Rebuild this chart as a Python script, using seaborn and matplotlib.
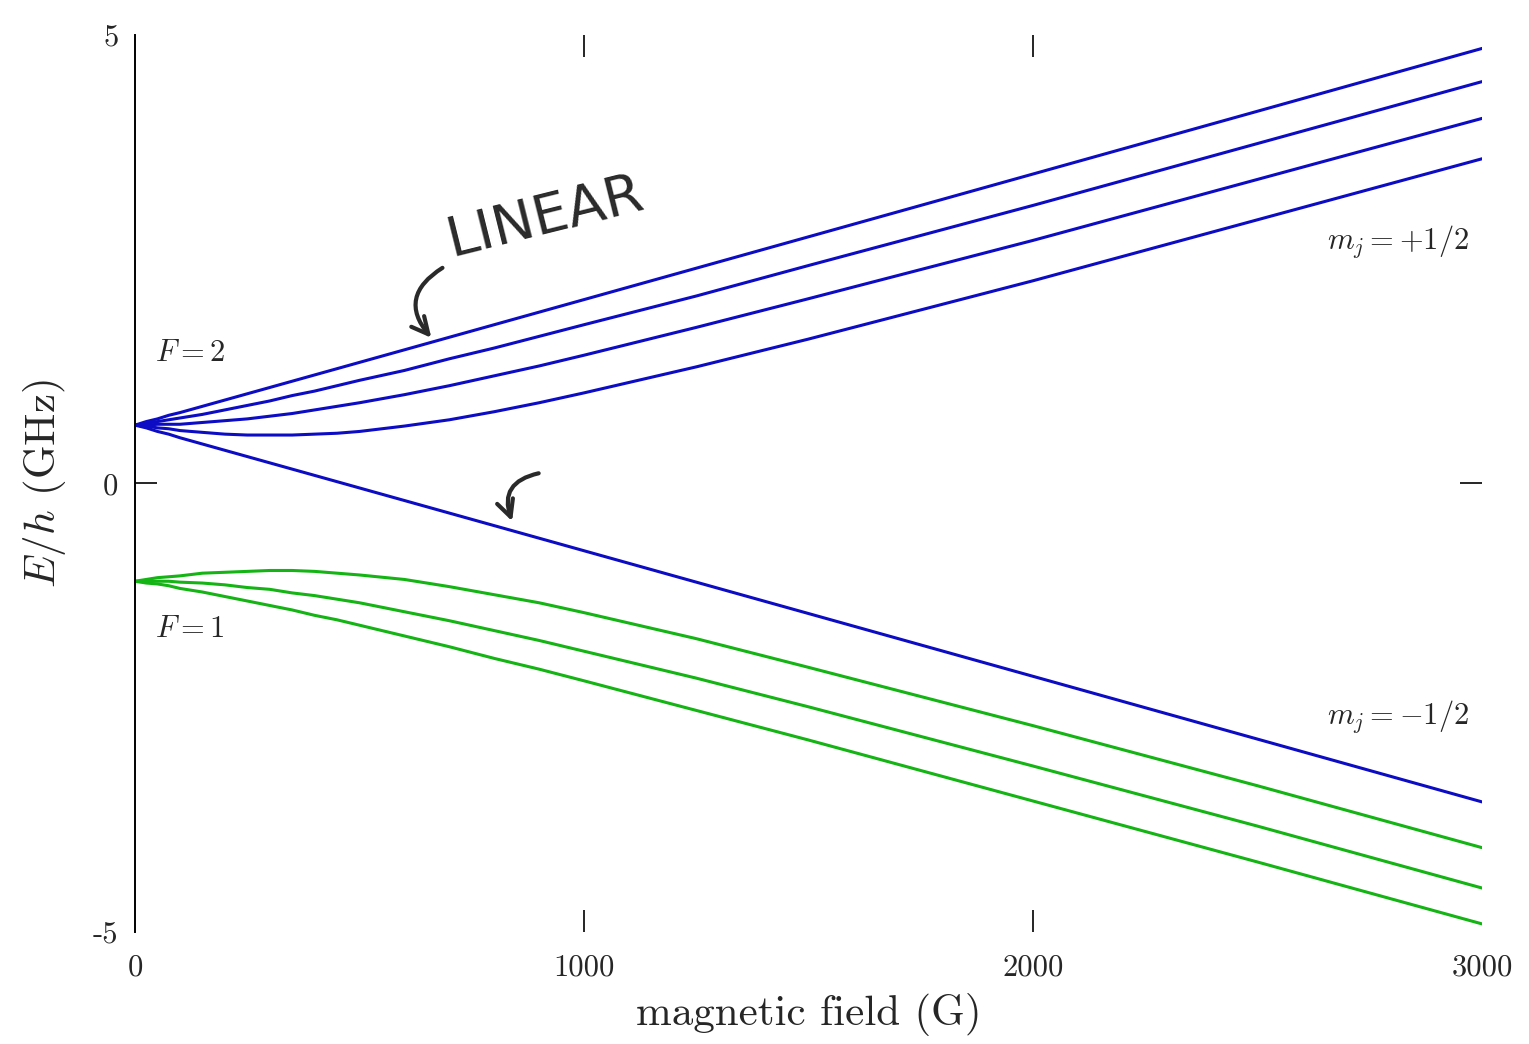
import numpy as np
import pandas as pd
import matplotlib
matplotlib.use('Agg')
import matplotlib.pyplot as plt
import seaborn as sns

field = [0, 25, 50, 75, 100, 150, 200, 250, 300, 350, 400, 450, 500,
         600, 700, 800, 900, 1000, 1250, 1500, 2000, 2500, 3000]

# F = 2 levels (GHz)
f2_m2 = [0.65, 0.69, 0.72, 0.76, 0.79, 0.86, 0.93, 1.00, 1.07, 1.14, 1.21, 1.28, 1.35,
         1.49, 1.63, 1.77, 1.91, 2.05, 2.40, 2.75, 3.45, 4.15, 4.85]
f2_m1 = [0.65, 0.67, 0.69, 0.71, 0.73, 0.77, 0.82, 0.87, 0.92, 0.98, 1.03, 1.09, 1.15,
         1.26, 1.39, 1.51, 1.64, 1.77, 2.09, 2.43, 3.10, 3.79, 4.48]
f2_m0 = [0.65, 0.65, 0.66, 0.66, 0.66, 0.68, 0.70, 0.72, 0.75, 0.78, 0.82, 0.86, 0.90,
         0.99, 1.09, 1.20, 1.31, 1.43, 1.74, 2.06, 2.71, 3.39, 4.07]
f2_mm1 = [0.65, 0.64, 0.62, 0.61, 0.59, 0.57, 0.55, 0.54, 0.54, 0.54, 0.55, 0.56, 0.58,
          0.64, 0.71, 0.80, 0.90, 1.01, 1.30, 1.61, 2.26, 2.94, 3.62]
f2_mm2 = [0.65, 0.62, 0.58, 0.55, 0.51, 0.44, 0.37, 0.30, 0.23, 0.16, 0.09, 0.02, -0.05,
          -0.19, -0.33, -0.47, -0.61, -0.75, -1.10, -1.45, -2.15, -2.85, -3.55]

# F = 1 levels (GHz)
f1_mm1 = [-1.09, -1.07, -1.05, -1.04, -1.03, -1.00, -0.99, -0.98, -0.97, -0.97, -0.98, -1.00, -1.02,
          -1.07, -1.15, -1.24, -1.33, -1.44, -1.73, -2.05, -2.70, -3.37, -4.06]
f1_m0 = [-1.09, -1.09, -1.09, -1.09, -1.10, -1.11, -1.13, -1.16, -1.18, -1.22, -1.25, -1.29, -1.33,
         -1.43, -1.53, -1.64, -1.75, -1.87, -2.17, -2.49, -3.15, -3.82, -4.51]
f1_m1 = [-1.09, -1.11, -1.12, -1.14, -1.17, -1.21, -1.26, -1.31, -1.36, -1.41, -1.47, -1.52, -1.58,
         -1.70, -1.82, -1.95, -2.07, -2.20, -2.53, -2.86, -3.54, -4.22, -4.91]

levels = {
    ('F2', 'm2'): f2_m2, ('F2', 'm1'): f2_m1, ('F2', 'm0'): f2_m0,
    ('F2', 'm-1'): f2_mm1, ('F2', 'm-2'): f2_mm2,
    ('F1', 'm-1'): f1_mm1, ('F1', 'm0'): f1_m0, ('F1', 'm1'): f1_m1,
}
rows = []
for (F, m), vals in levels.items():
    for b, e in zip(field, vals):
        rows.append({'B': b, 'E': e, 'F': F, 'state': F + m})
df = pd.DataFrame(rows)

sns.set_style('white')
plt.rcParams['font.family'] = ['cmr10', 'DejaVu Serif']
plt.rcParams['mathtext.fontset'] = 'cm'
plt.rcParams['axes.unicode_minus'] = False

fig = plt.figure(figsize=(15.29, 10.44), dpi=100)
ax = fig.add_axes([0.0883, 0.1073, 0.881, 0.8592])

sns.lineplot(data=df, x='B', y='E', hue='F', units='state', estimator=None,
             palette={'F2': '#0c0cc4', 'F1': '#14b414'}, legend=False,
             linewidth=2.2, ax=ax)

ax.set_xlim(0, 3000)
ax.set_ylim(-5, 5)
ax.set_xticks([0, 1000, 2000, 3000])
ax.set_xticklabels(['0', '1000', '2000', '3000'])
ax.set_yticks([-5, 0, 5])
ax.set_yticklabels(['-5', '0', '5'])
ax.tick_params(direction='in', length=16, width=1.2, labelsize=22,
               bottom=True, top=True, left=True, right=True, color='black')
ax.tick_params(axis='x', pad=16)
ax.tick_params(axis='y', pad=12)

# no tick marks at the ends of the axes
for t in ax.xaxis.get_major_ticks():
    if t.get_loc() in (0, 3000):
        t.tick1line.set_visible(False)
        t.tick2line.set_visible(False)
for t in ax.yaxis.get_major_ticks():
    if t.get_loc() in (-5, 5):
        t.tick1line.set_visible(False)
        t.tick2line.set_visible(False)

for s in ['top', 'right', 'bottom']:
    ax.spines[s].set_visible(False)
ax.spines['left'].set_linewidth(1.4)
ax.spines['left'].set_color('black')

ax.set_xlabel('magnetic field (G)', fontsize=31, labelpad=8)
ax.set_ylabel(r'$E/h$ (GHz)', fontsize=31, labelpad=18)

ax.text(45, 1.45, r'$F = 2$', fontsize=22, ha='left', va='center')
ax.text(45, -1.62, r'$F = 1$', fontsize=22, ha='left', va='center')
ax.text(2970, 2.7, r'$m_j = +1/2$', fontsize=22, ha='right', va='center')
ax.text(2970, -2.6, r'$m_j = -1/2$', fontsize=22, ha='right', va='center')

# hand-written note
ax.text(913, 2.97, 'LINEAR', fontsize=40, family='DejaVu Sans', color='#2a2a2a',
        rotation=14, ha='center', va='center')
ax.annotate('', xy=(664, 1.6), xytext=(690, 2.42),
            arrowprops=dict(arrowstyle='->', lw=3, color='#2a2a2a',
                            connectionstyle='arc3,rad=0.6', mutation_scale=30))
ax.annotate('', xy=(842, -0.45), xytext=(905, 0.12),
            arrowprops=dict(arrowstyle='->', lw=3, color='#2a2a2a',
                            connectionstyle='arc3,rad=0.6', mutation_scale=30))

fig.savefig('out.png', dpi=100)
